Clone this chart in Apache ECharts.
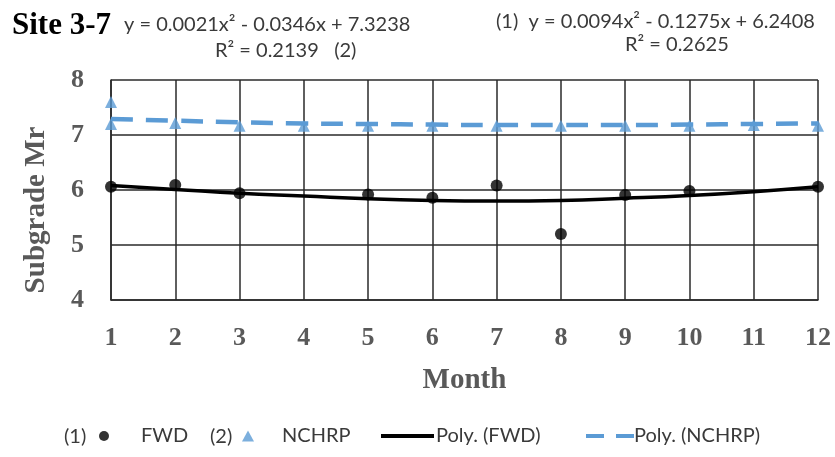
<!DOCTYPE html>
<html><head><meta charset="utf-8">
<script src="https://cdn.jsdelivr.net/npm/echarts@6/dist/echarts.min.js"></script>
<style>html,body{margin:0;padding:0;background:#fff}#c{width:835px;height:457px}</style>
</head><body><div id="c"></div>
<script>
// Data
const months = [1,2,3,4,5,6,7,8,9,10,11,12];
const fwdMonths = [1,2,3,5,6,7,8,9,10,12];
const fwdValues = [6.06,6.09,5.94,5.92,5.86,6.08,5.2,5.91,5.98,6.06];
const nchrpMonths = [1,1,2,3,4,5,6,7,8,9,10,11,12];
const nchrpValues = [7.6,7.2,7.22,7.17,7.17,7.17,7.17,7.17,7.17,7.17,7.17,7.18,7.17];
const polyFwd = [6.08,6.01,5.94,5.89,5.84,5.81,5.80,5.81,5.85,5.90,5.97,6.06];
const polyNchrp = [7.29,7.26,7.23,7.21,7.20,7.19,7.18,7.18,7.18,7.19,7.20,7.21];
const yTicks = [4,5,6,7,8];

const serif = '"Liberation Serif", "DejaVu Serif", serif';
const sans = 'Lato, "Liberation Sans", sans-serif';
const chart = echarts.init(document.getElementById('c'));
const gridColor = '#2a2a2a';
const lg = {fontFamily: sans, fontSize: 20, color: '#3a3a3a'};

chart.setOption({
  animation: false,
  grid: {left: 111, right: 17, top: 80, bottom: 157},
  xAxis: {
    type: 'value', min: 1, max: 12, interval: 1,
    name: 'Month', nameLocation: 'middle', nameGap: 66,
    nameTextStyle: {fontFamily: serif, fontWeight: 'bold', fontSize: 29, color: '#595959'},
    axisLine: {show: true, lineStyle: {color: gridColor, width: 1.5}},
    axisTick: {show: false},
    axisLabel: {margin: 25, fontFamily: serif, fontWeight: 'bold', fontSize: 26, color: '#595959'},
    splitLine: {show: true, lineStyle: {color: gridColor, width: 1.5}}
  },
  yAxis: {
    type: 'value', min: yTicks[0], max: yTicks[yTicks.length-1], interval: 1,
    axisLine: {show: true, lineStyle: {color: gridColor, width: 1.5}},
    axisTick: {show: false},
    axisLabel: {margin: 27, fontFamily: serif, fontWeight: 'bold', fontSize: 26, color: '#595959'},
    splitLine: {show: true, lineStyle: {color: gridColor, width: 1.5}}
  },
  legend: [
    {data: ['FWD'], left: 99, top: 426, padding: 0, icon: 'circle', itemWidth: 10, itemHeight: 11,
     textStyle: Object.assign({padding: [0,0,0,27]}, lg)},
    {data: ['NCHRP'], left: 242, top: 426, padding: 0, icon: 'triangle', itemWidth: 12, itemHeight: 11,
     textStyle: Object.assign({padding: [0,0,0,23]}, lg)},
    {data: [{name: 'Poly. (FWD)', icon: 'path://M0,0 H53 V4 H0 Z'}], left: 381, top: 426, padding: 0, itemWidth: 53, itemHeight: 4,
     textStyle: Object.assign({padding: [0,0,0,-3]}, lg)},
    {data: [{name: 'Poly. (NCHRP)', icon: 'path://M0,0 H18 V4 H0 Z M30,0 H48 V4 H30 Z'}], left: 586, top: 426, padding: 0, itemWidth: 48, itemHeight: 4,
     textStyle: Object.assign({padding: [0,0,0,-5]}, lg)}
  ],
  graphic: [
    {type: 'text', left: 12, top: 10, style: {text: 'Site 3-7', font: 'bold 31px ' + serif, fill: '#000'}},
    {type: 'text', left: 124, top: 15, style: {text: 'y = 0.0021x² - 0.0346x + 7.3238', font: '20px ' + sans, fill: '#3a3a3a'}},
    {type: 'text', left: 215, top: 41, style: {text: 'R² = 0.2139   (2)', font: '20px ' + sans, fill: '#3a3a3a'}},
    {type: 'text', left: 496, top: 12, style: {text: '(1)  y = 0.0094x² - 0.1275x + 6.2408', font: '20px ' + sans, fill: '#3a3a3a'}},
    {type: 'text', left: 625, top: 35, style: {text: 'R² = 0.2625', font: '20px ' + sans, fill: '#3a3a3a'}},
    {type: 'text', x: 37, y: 210, rotation: Math.PI / 2,
     style: {text: 'Subgrade Mr', font: 'bold 29px ' + serif, fill: '#595959', align: 'center', verticalAlign: 'middle'}},
    {type: 'text', x: 64, y: 437, style: {text: '(1)', font: '20px ' + sans, fill: '#3a3a3a', verticalAlign: 'middle'}},
    {type: 'text', x: 210, y: 437, style: {text: '(2)', font: '20px ' + sans, fill: '#3a3a3a', verticalAlign: 'middle'}}
  ],
  series: [
    {name: 'Poly. (NCHRP)', type: 'line', smooth: true, symbol: 'none', z: 2,
     data: months.map((m,i)=>[m, polyNchrp[i]]),
     lineStyle: {color: '#5b9bd5', width: 4.5, type: [22, 13]}, itemStyle: {color: '#5b9bd5'}},
    {name: 'Poly. (FWD)', type: 'line', smooth: true, symbol: 'none', z: 2,
     data: months.map((m,i)=>[m, polyFwd[i]]),
     lineStyle: {color: '#000', width: 3.5}, itemStyle: {color: '#000'}},
    {name: 'NCHRP', type: 'scatter', symbol: 'triangle', symbolSize: 12, z: 3,
     data: nchrpMonths.map((m,i)=>[m, nchrpValues[i]]),
     itemStyle: {color: '#5b9bd5'}},
    {name: 'FWD', type: 'scatter', symbol: 'circle', symbolSize: 12, z: 4,
     data: fwdMonths.map((m,i)=>[m, fwdValues[i]]),
     itemStyle: {color: '#000'}}
  ]
});
</script></body></html>
